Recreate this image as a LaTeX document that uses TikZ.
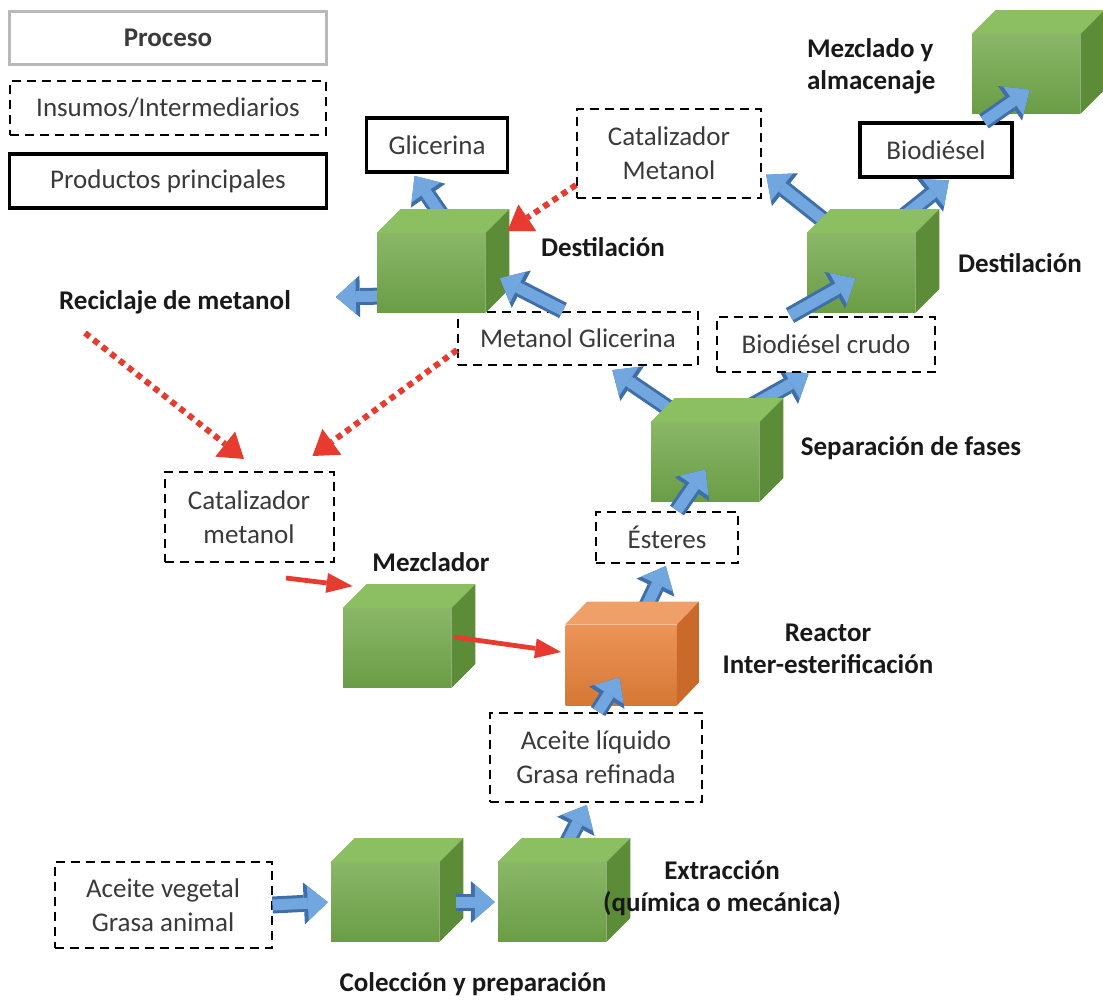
\documentclass[tikz,border=0pt]{standalone}
\usepackage{fontspec}
\setmainfont{Carlito}
\usetikzlibrary{arrows.meta, backgrounds}

\definecolor{verde}{HTML}{74AA4C}
\definecolor{verdeclaro}{HTML}{8CBE62}
\definecolor{verdeosc}{HTML}{5C8C38}
\definecolor{naranja}{HTML}{E8823A}
\definecolor{naranjaclaro}{HTML}{EFA068}
\definecolor{naranjaosc}{HTML}{C9692A}
\definecolor{azul}{HTML}{72A6DF}
\definecolor{azulosc}{HTML}{3E6FA8}
\definecolor{rojo}{HTML}{E63B2E}
\definecolor{texto}{HTML}{3A3A3A}

\tikzset{
    caja/.style={fill=white, text=texto, align=center, inner sep=2pt,
                 font=\fontsize{13.5}{17}\selectfont},
    proceso/.style={caja, draw=gray!55, line width=1.2pt},
    insumo/.style={caja, draw=black, line width=1pt, dash pattern=on 4.5pt off 3pt},
    producto/.style={caja, draw=black, line width=1.6pt},
    etiqueta/.style={font=\fontsize{13.5}{16}\selectfont\bfseries, text=black!90, align=center},
    cubo/.style={minimum width=54pt, minimum height=39.5pt, inner sep=0pt,
                 top color=verde!85!white, bottom color=verde!92!black},
    flujo/.style={preaction={draw=azulosc, line width=8.5pt,
                             -{Triangle[length=12pt, width=21pt, line width=0pt]}},
                  draw=azul, line width=5.5pt, shorten >=1.4pt,
                  -{Triangle[length=10pt, width=17.5pt, line width=0pt, fill=azul]}},
    reciclo/.style={draw=rojo, line width=3pt, dash pattern=on 3pt off 2.5pt,
                    -{Triangle[length=12pt, width=16pt, line width=0pt]}},
    alimenta/.style={draw=rojo, line width=2.4pt,
                     -{Triangle[length=13pt, width=10pt, line width=0pt]}}
}

\begin{document}
\begin{tikzpicture}[x=0.5pt, y=-0.5pt]
    \useasboundingbox (0, 0) rectangle (1103, 1002);

    % Legend:
    \node[proceso, minimum width=158.5pt, minimum height=26.5pt,
          font=\fontsize{13.5}{17}\selectfont\bfseries] (leyproc) at (168, 38) {Proceso};
    \node[insumo, minimum width=158pt, minimum height=27pt] (leyins) at (168, 108) {Insumos/Intermediarios};
    \node[producto, minimum width=158.5pt, minimum height=27pt] (leyprod) at (168, 181) {Productos principales};

    % Streams:
    \node[producto, minimum width=70.5pt, minimum height=27pt] (glic) at (437, 145) {Glicerina};
    \node[insumo, minimum width=92pt, minimum height=44.5pt] (catmet) at (669, 153) {Catalizador\\Metanol};
    \node[producto, minimum width=76pt, minimum height=27pt] (bio) at (936, 150) {Biodiésel};
    \node[insumo, minimum width=120pt, minimum height=26.5pt] (metgli) at (578, 338) {Metanol Glicerina};
    \node[insumo, minimum width=109pt, minimum height=27.5pt] (biocru) at (826, 344) {Biodiésel crudo};
    \node[insumo, minimum width=84.5pt, minimum height=45pt] (cat) at (249, 517) {Catalizador\\metanol};
    \node[insumo, minimum width=71pt, minimum height=25.5pt] (est) at (667, 537) {Ésteres};
    \node[insumo, minimum width=106pt, minimum height=44.5pt] (liq) at (596, 757) {Aceite líquido\\Grasa refinada};
    \node[insumo, minimum width=108.5pt, minimum height=43pt] (veg) at (163, 905) {Aceite vegetal\\Grasa animal};

    % Process blocks (front faces):
    \node[cubo] (col) at (385, 902) {};
    \node[cubo] (ext) at (552, 902) {};
    \node[cubo] (mez) at (397, 648) {};
    \node[cubo] (sep) at (705, 462) {};
    \node[cubo] (dest1) at (431, 273) {};
    \node[cubo] (dest2) at (861, 273) {};
    \node[cubo] (alm) at (1026, 74) {};
    \node[cubo, minimum width=55.5pt, minimum height=40pt,
          top color=naranja!85!white, bottom color=naranja!92!black] (reac) at (621, 665) {};

    % Top and side faces:
    \foreach \cb in {col, ext, mez, sep, dest1, dest2, alm} {
        \fill[verdeclaro] (\cb.north west) -- ++(24, -24) -- ([shift={(24, -24)}]\cb.north east) -- (\cb.north east) -- cycle;
        \fill[verdeosc] (\cb.north east) -- ++(24, -24) -- ([shift={(24, -24)}]\cb.south east) -- (\cb.south east) -- cycle;
    }
    \fill[naranjaclaro] (reac.north west) -- ++(22, -23) -- ([shift={(22, -23)}]reac.north east) -- (reac.north east) -- cycle;
    \fill[naranjaosc] (reac.north east) -- ++(22, -23) -- ([shift={(22, -23)}]reac.south east) -- (reac.south east) -- cycle;

    % Labels:
    \node[etiqueta, align=left, anchor=west] (lalm) at (800, 66) {Mezclado y\\almacenaje};
    \node[etiqueta] (ldest1) at (603, 247) {Destilación};
    \node[etiqueta] (ldest2) at (1020, 263) {Destilación};
    \node[etiqueta] (lrecic) at (175, 302) {Reciclaje de metanol};
    \node[etiqueta] (lsep) at (911, 448) {Separación de fases};
    \node[etiqueta] (lmez) at (431, 562) {Mezclador};
    \node[etiqueta] (lreac) at (828, 649) {Reactor\\Inter-esterificación};
    \node[etiqueta] (lext) at (722, 888) {Extracción\\(química o mecánica)};
    \node[etiqueta] (lcol) at (473, 984) {Colección y preparación};

    % Free ends:
    \coordinate (salida) at (333, 297);
    \coordinate (recic) at (85, 333);

    % Blue streams leaving a block (behind it):
    \begin{pgfonlayer}{background}
        \draw[flujo] ([shift={(12, -13)}]ext.north) -- ([shift={(-8, 0)}]liq.south);
        \draw[flujo] ([shift={(24, -15)}]reac.north) -- (est.south);
        \draw[flujo] ([shift={(22, -11)}]sep.north west) -- ([shift={(32, 3)}]metgli.south);
        \draw[flujo] ([shift={(-15, -12)}]sep.north east) -- ([shift={(-15, 0)}]biocru.south);
        \draw[flujo] ([shift={(14, -13)}]dest1.north) -- ([shift={(-24, 0)}]glic.south);
        \draw[flujo] ([shift={(10, 23)}]dest1.west) -- (salida);
        \draw[flujo] ([shift={(-34, -10)}]dest2.north) -- ([shift={(2, 20)}]catmet.east);
        \draw[flujo] ([shift={(38, -13)}]dest2.north) -- ([shift={(15, 0)}]bio.south);
    \end{pgfonlayer}

    % Blue streams entering a block:
    \draw[flujo] (veg.east) -- (col.west);
    \draw[flujo] ([shift={(17, 0)}]col.east) -- (ext.west);
    \draw[flujo] ([shift={(2, 0)}]liq.north) -- ([shift={(0, 10)}]reac.center);
    \draw[flujo] ([shift={(10, 0)}]est.north) -- ([shift={(2, 5)}]sep.center);
    \draw[flujo] ([shift={(-15, 0)}]metgli.north) -- ([shift={(12, 4)}]dest1.east);
    \draw[flujo] ([shift={(-36, 0)}]biocru.north) -- ([shift={(-3, 4)}]dest2.center);
    \draw[flujo] ([shift={(48, 0)}]bio.north) -- ([shift={(6, 14)}]alm.center);

    % Methanol recycle:
    \draw[reciclo] ([shift={(0, 32)}]catmet.west) -- ([shift={(22, -2)}]dest1.north east);
    \draw[reciclo] (recic) -- ([shift={(-5, -12)}]cat.north);
    \draw[reciclo] ([shift={(0, 12)}]metgli.west) -- ([shift={(-22, -15)}]cat.north east);

    % Feed to mixer and reactor:
    \draw[alimenta] ([shift={(37, 15)}]cat.south) -- ([shift={(10, -22)}]mez.north west);
    \draw[alimenta] ([shift={(3, -11)}]mez.east) -- ([shift={(-4, -13)}]reac.west);
\end{tikzpicture}
\end{document}
